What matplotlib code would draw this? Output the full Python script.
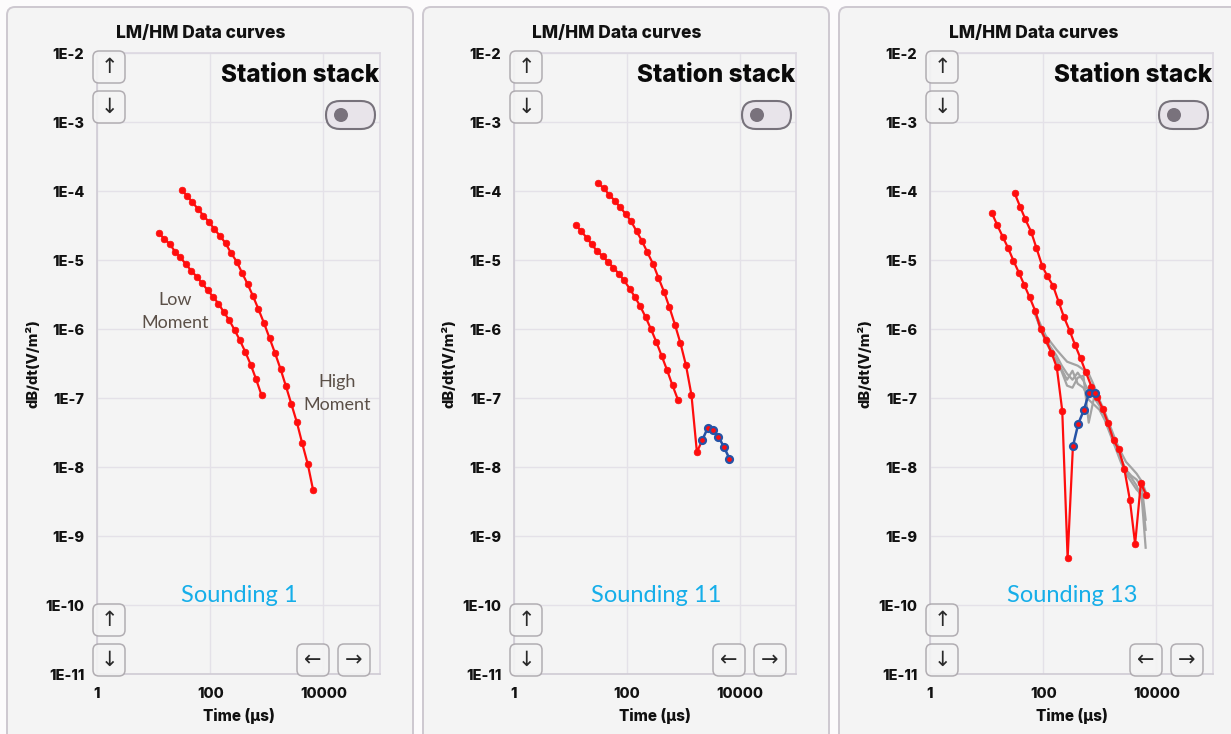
import matplotlib
matplotlib.use("Agg")
import matplotlib.pyplot as plt
from matplotlib.patches import FancyBboxPatch, Circle
from matplotlib.transforms import Affine2D

W, H = 1231, 734

# ---------------- data ----------------
lm_time = [12.4, 15.4, 19.4, 24.0, 29.8, 37.2, 46.3, 57.7, 72.1, 89.7,
           112, 140, 174, 217, 270, 335, 417, 520, 647, 807]
hm_time = [31.2, 39.1, 48.5, 61.1, 76.0, 96.2, 119, 149, 187, 231, 295, 364,
           457, 569, 713, 895, 1122, 1400, 1750, 2173, 2704, 3396, 4207, 5309, 6592]

s1_lm = [2.44e-5, 2.04e-5, 1.69e-5, 1.32e-5, 1.09e-5, 8.67e-6, 7.00e-6, 5.73e-6,
         4.59e-6, 3.67e-6, 2.94e-6, 2.33e-6, 1.76e-6, 1.34e-6, 9.68e-7, 6.85e-7,
         4.65e-7, 3.04e-7, 1.87e-7, 1.10e-7]
s1_hm = [1.03e-4, 8.55e-5, 6.85e-5, 5.48e-5, 4.39e-5, 3.52e-5, 2.79e-5, 2.23e-5,
         1.75e-5, 1.28e-5, 9.44e-6, 6.55e-6, 4.49e-6, 3.01e-6, 1.93e-6, 1.21e-6,
         7.33e-7, 4.45e-7, 2.63e-7, 1.49e-7, 8.26e-8, 4.45e-8, 2.23e-8, 1.09e-8, 4.59e-9]

s11_lm = [3.24e-5, 2.65e-5, 2.10e-5, 1.68e-5, 1.34e-5, 1.14e-5, 9.42e-6, 7.78e-6,
          6.31e-6, 5.05e-6, 3.86e-6, 2.89e-6, 2.12e-6, 1.47e-6, 9.84e-7, 6.44e-7,
          4.04e-7, 2.51e-7, 1.52e-7, 9.42e-8]
s11_hm = [1.30e-4, 1.09e-4, 8.89e-5, 7.21e-5, 5.82e-5, 4.61e-5, 3.65e-5, 2.61e-5,
          1.87e-5, 1.30e-5, 8.61e-6, 5.52e-6, 3.46e-6, 2.07e-6, 1.16e-6, 6.22e-7,
          2.96e-7, 1.11e-7, 1.64e-8, 2.44e-8, 3.65e-8, 3.46e-8, 2.74e-8, 1.94e-8, 1.32e-8]
s11_hm_neg = [False] * 19 + [True] * 6
s11_lm_neg = [False] * 20

s13_lm = [4.80e-5, 3.21e-5, 2.15e-5, 1.49e-5, 9.77e-6, 6.55e-6, 4.35e-6, 2.87e-6,
          1.84e-6, 1.00e-6, 6.84e-7, 4.54e-7, 2.77e-7, 6.55e-8, 4.80e-10,
          1.99e-8, 4.25e-8, 6.61e-8, 1.19e-7, 1.18e-7]
s13_lm_neg = [False] * 15 + [True] * 5
s13_hm = [9.35e-5, 5.92e-5, 3.87e-5, 2.57e-5, 1.49e-5, 8.18e-6, 5.78e-6, 4.25e-6,
          2.49e-6, 1.51e-6, 9.35e-7, 5.92e-7, 3.75e-7, 2.35e-7, 1.46e-7, 1.04e-7,
          7.00e-8, 4.29e-8, 2.43e-8, 1.80e-8, 9.44e-9, 3.36e-9, 7.66e-10, 5.86e-9, 3.93e-9]
s13_hm_neg = [False] * 25

stack_time = [72, 90, 111, 138, 172, 213, 264, 329, 407, 514, 637, 791, 984,
              1219, 1514, 1884, 2339, 2897, 3606, 4477, 5546, 6457]
stack_1 = [1.78e-6, 1.15e-6, 8.00e-7, 6.33e-7, 5.01e-7, 4.10e-7, 3.36e-7, 3.14e-7,
           2.94e-7, 2.57e-7, 2.25e-7, 1.51e-7, 9.44e-8, 6.33e-8, 3.97e-8, 2.49e-8,
           1.67e-8, 1.19e-8, 9.77e-9, 8.00e-9, 6.12e-9, 4.39e-9]
stack_2 = [1.72e-6, 1.04e-6, 7.00e-7, 5.36e-7, 4.10e-7, 2.94e-7, 2.25e-7, 1.84e-7,
           2.33e-7, 1.78e-7, 1.23e-7, 1.08e-7, 8.26e-8, 5.92e-8, 3.48e-8, 2.18e-8,
           1.36e-8, 9.14e-9, 7.48e-9, 6.55e-9, 5.01e-9, 1.72e-9]
stack_3 = [1.67e-6, 9.77e-7, 6.55e-7, 4.69e-7, 3.59e-7, 2.40e-7, 1.51e-7, 1.41e-7,
           1.97e-7, 2.10e-7, 4.39e-8, 1.01e-7, 7.73e-8, 5.53e-8, 3.25e-8, 2.04e-8,
           1.28e-8, 8.55e-9, 7.00e-9, 5.36e-9, 3.36e-9, 6.76e-10]
stack_4 = [1.61e-6, 1.08e-6, 7.48e-7, 5.01e-7, 3.14e-7, 2.57e-7, 1.84e-7, 2.48e-7,
           1.61e-7, 1.41e-7, 9.44e-8, 8.00e-8, 6.76e-8, 4.84e-8, 3.04e-8, 1.91e-8,
           1.19e-8, 8.00e-9, 6.12e-9, 4.69e-9, 3.97e-9, 1.23e-9]

y_ticks = [1e-11, 1e-10, 1e-9, 1e-8, 1e-7, 1e-6, 1e-5, 1e-4, 1e-3, 1e-2]
y_ticklabels = ["1E-11", "1E-10", "1E-9", "1E-8", "1E-7", "1E-6", "1E-5", "1E-4", "1E-3", "1E-2"]
x_ticks = [1, 100, 10000]
x_ticklabels = ["1", "100", "10000"]
sounding_names = ["Sounding 1", "Sounding 11", "Sounding 13"]

# ---------------- styling ----------------
RED = "#ff0d0d"
BLUE = "#2653a6"
GREY = "#a3a3a3"
PANEL = "#f4f4f4"
BORDER = "#cdc8d0"
FONT = ["Inter", "DejaVu Sans"]
HUMAN = ["Lato", "Open Sans", "DejaVu Sans"]

fig = plt.figure(figsize=(W / 100, H / 100), dpi=100)
fig.patch.set_facecolor("#fcfbfc")

# pixel transform (x right, y down)
T = Affine2D().scale(1 / 100, -1 / 100).translate(0, H / 100) + fig.dpi_scale_trans


def rbox(x, y, w, h, r, fc, ec, lw, z, alpha=1.0):
    p = FancyBboxPatch((x, y), w, h, boxstyle=f"round,pad=0,rounding_size={r}",
                       transform=T, fc=fc, ec=ec, lw=lw, zorder=z, alpha=alpha)
    fig.add_artist(p)
    return p


def ptext(x, y, s, **kw):
    return fig.text(x / W, 1 - y / H, s, **kw)


panels = [(7, 406, 97, 380), (423, 406, 514, 796), (839, 430, 930, 1213)]
data = [
    dict(lm=s1_lm, hm=s1_hm, lmneg=[False] * 20, hmneg=[False] * 25, stack=False),
    dict(lm=s11_lm, hm=s11_hm, lmneg=s11_lm_neg, hmneg=s11_hm_neg, stack=False),
    dict(lm=s13_lm, hm=s13_hm, lmneg=s13_lm_neg, hmneg=s13_hm_neg, stack=True),
]

top, bottom = 53, 674


def draw_series(ax, t, v, neg):
    pos_idx = [i for i, n in enumerate(neg) if not n]
    neg_idx = [i for i, n in enumerate(neg) if n]
    red_idx = list(pos_idx)
    if neg_idx:
        red_idx = sorted(set(pos_idx + [neg_idx[0]]))
    ax.plot([t[i] for i in red_idx], [v[i] for i in red_idx], color=RED, lw=1.6, zorder=3)
    ax.plot([t[i] for i in pos_idx], [v[i] for i in pos_idx], ls="none", marker="o",
            ms=4.8, mfc=RED, mec=RED, mew=0.5, zorder=4)
    if neg_idx:
        ax.plot([t[i] for i in neg_idx], [v[i] for i in neg_idx], color=BLUE, lw=1.8,
                marker="o", ms=5.0, mfc=RED, mec=BLUE, mew=1.6, zorder=5)


for k, (px0, pw, ax0, ax1) in enumerate(panels):
    rbox(px0, 7, pw, 780, 8, PANEL, BORDER, 1.4, -2)
    ax = fig.add_axes([ax0 / W, 1 - bottom / H, (ax1 - ax0) / W, (bottom - top) / H])
    ax.set_facecolor(PANEL)
    ax.set_xscale("log")
    ax.set_yscale("log")
    ax.set_xlim(1, 1e5)
    ax.set_ylim(1e-11, 1e-2)
    ax.set_xticks(x_ticks)
    ax.set_xticklabels(x_ticklabels)
    ax.set_yticks(y_ticks)
    ax.set_yticklabels(y_ticklabels)
    ax.minorticks_off()
    ax.tick_params(length=0, pad=9)
    for lab in ax.get_xticklabels() + ax.get_yticklabels():
        lab.set_fontfamily(FONT)
        lab.set_fontweight("heavy")
        lab.set_fontsize(10.5)
        lab.set_color("#111111")
    ax.grid(True, color="#e4e1e8", lw=1.0, zorder=0)
    for s in ax.spines.values():
        s.set_color("#dcd8e1")
        s.set_linewidth(1.2)
    ax.spines["left"].set_color("#cfcbd4")
    ax.spines["bottom"].set_color("#cfcbd4")

    d = data[k]
    if d["stack"]:
        for g in (stack_1, stack_2, stack_3, stack_4):
            ax.plot(stack_time, g, color=GREY, lw=1.6, zorder=2)
    draw_series(ax, lm_time, d["lm"], d["lmneg"])
    draw_series(ax, hm_time, d["hm"], d["hmneg"])

    cx = (ax0 + ax1) / 2
    ptext(cx - 38, 33, "LM/HM Data curves", ha="center", va="center",
          fontsize=12.5, fontweight="heavy", family=FONT, color="#111111")
    ptext(cx, 716, "Time (µs)", ha="center", va="center", fontsize=11,
          fontweight="heavy", family=FONT, color="#111111")
    ptext(ax0 - 64, 364, "dB/dt(V/m²)", ha="center", va="center", rotation=90,
          fontsize=10.5, fontweight="heavy", family=FONT, color="#111111")
    ptext(ax1 - 1, 76, "Station stack", ha="right", va="center", fontsize=17.5,
          fontweight="heavy", family=FONT, color="#0a0a0a", zorder=6)
    rbox(ax1 - 54, 101, 49, 28, 14, "#e8e4ea", "#77727b", 1.5, 6)
    fig.add_artist(Circle((ax1 - 39, 115), 7, transform=T, fc="#79727c", ec="none", zorder=7))
    ptext(cx + 1, 595, sounding_names[k], ha="center", va="center", fontsize=17,
          family=HUMAN, color="#16aee9", zorder=6)
    btns = [(ax0 - 4, 51, "↑"), (ax0 - 4, 91, "↓"), (ax0 - 4, 604, "↑"), (ax0 - 4, 644, "↓"),
            (ax1 - 83, 644, "←"), (ax1 - 42, 644, "→")]
    for bx, by, g in btns:
        rbox(bx, by, 32, 32, 6, PANEL, "#aaa6ab", 1.1, 6, alpha=0.9)
        ptext(bx + 16, by + 16, g, ha="center", va="center", fontsize=15,
              family=["DejaVu Sans"], color="#2a2a2a", zorder=7)

ann_kw = dict(ha="center", va="center", fontsize=13, family=HUMAN,
              color="#5b5048", zorder=6)
ptext(175, 300, "Low", **ann_kw)
ptext(175, 323, "Moment", **ann_kw)
ptext(337, 382, "High", **ann_kw)
ptext(337, 405, "Moment", **ann_kw)

fig.savefig("out.png", dpi=100, facecolor=fig.get_facecolor())
